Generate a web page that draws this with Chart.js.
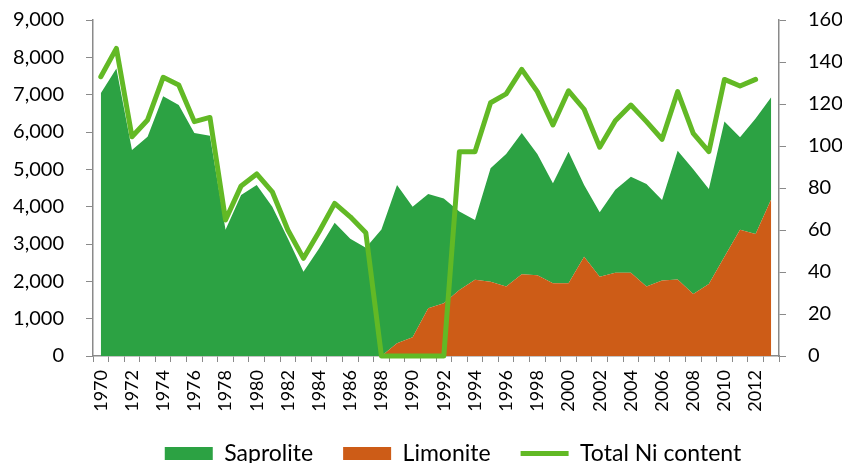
<!DOCTYPE html>
<html>
<head>
<meta charset="utf-8">
<script src="https://cdn.jsdelivr.net/npm/chart.js@4/dist/chart.umd.min.js"></script>
<style>
  html, body { margin: 0; padding: 0; background: #ffffff; }
  #wrap { width: 842px; height: 463px; position: relative; }
</style>
</head>
<body>
<div id="wrap"><canvas id="c" width="842" height="463"></canvas></div>
<script>
const years = [1970,1971,1972,1973,1974,1975,1976,1977,1978,1979,1980,1981,1982,1983,1984,1985,1986,1987,1988,1989,1990,1991,1992,1993,1994,1995,1996,1997,1998,1999,2000,2001,2002,2003,2004,2005,2006,2007,2008,2009,2010,2011,2012,2013];

const saprolite = [7040,7700,5520,5870,6960,6720,5970,5900,3380,4310,4580,4000,3150,2260,2880,3570,3140,2900,3390,4240,3500,3060,2810,2100,1600,3040,3550,3780,3250,2680,3520,1920,1725,2220,2570,2750,2160,3450,3340,2540,3620,2480,3090,2730];

const limonite = [0,0,0,0,0,0,0,0,0,0,0,0,0,0,0,0,0,0,0,340,500,1280,1410,1770,2040,1990,1860,2190,2160,1950,1950,2660,2125,2230,2230,1860,2020,2050,1660,1930,2660,3380,3270,4200];

const totalNi = [133,146.5,104.4,112.4,132.7,129,111.6,113.6,64.8,81,86.7,78.2,60,46.5,59.2,72.7,66.3,58.7,0,0,0,0,0,97.3,97.3,120.6,124.8,136.5,125.9,110,126.3,117.5,99.4,112,119.5,111.6,103.2,125.9,106,97.3,131.7,128.6,131.7,null];

const leftTicks = [0,1000,2000,3000,4000,5000,6000,7000,8000,9000];
const rightTicks = [0,20,40,60,80,100,120,140,160];

const GREEN = '#2ca243';
const ORANGE = '#cd5c17';
const LINE = '#62b925';
const AXIS = '#8a8a8a';

Chart.defaults.font.family = 'Lato, "Liberation Sans", sans-serif';
Chart.defaults.color = '#000000';

const legendFit = {
  id: 'legendFit',
  beforeInit(chart) {
    const orig = chart.legend.fit;
    chart.legend.fit = function () {
      orig.call(this);
      this.height = 51;
    };
  },
  afterLayout(chart) {
    chart.legend.left += 32;
    chart.legend.right += 32;
  }
};

new Chart(document.getElementById('c'), {
  type: 'line',
  data: {
    labels: years,
    datasets: [
      {
        label: 'Saprolite',
        data: saprolite,
        yAxisID: 'y',
        stack: 'ore',
        order: 2,
        backgroundColor: GREEN,
        borderColor: GREEN,
        borderWidth: 0,
        pointRadius: 0,
        pointStyle: 'rect',
        fill: '+1',
        tension: 0
      },
      {
        label: 'Limonite',
        data: limonite,
        yAxisID: 'y',
        stack: 'ore',
        order: 1,
        backgroundColor: ORANGE,
        borderColor: ORANGE,
        borderWidth: 0,
        pointRadius: 0,
        pointStyle: 'rect',
        fill: 'origin',
        tension: 0
      },
      {
        label: 'Total Ni content',
        data: totalNi,
        yAxisID: 'y1',
        order: 0,
        backgroundColor: LINE,
        borderColor: LINE,
        borderWidth: 5,
        borderJoinStyle: 'round',
        borderCapStyle: 'round',
        pointRadius: 0,
        pointStyle: 'line',
        fill: false,
        tension: 0,
        clip: false,
        spanGaps: false
      }
    ]
  },
  options: {
    responsive: false,
    animation: false,
    devicePixelRatio: 1,
    layout: { padding: 0 },
    plugins: {
      tooltip: { enabled: false },
      legend: {
        position: 'bottom',
        labels: {
          usePointStyle: true,
          pointStyleWidth: 48,
          boxHeight: 13,
          padding: 30,
          color: '#000',
          font: { size: 23 },
          sort: (a, b) => a.datasetIndex - b.datasetIndex
        }
      }
    },
    scales: {
      x: {
        type: 'category',
        offset: true,
        grid: {
          display: true,
          offset: true,
          drawOnChartArea: false,
          drawTicks: true,
          tickLength: 6,
          color: AXIS,
          lineWidth: 1
        },
        border: { display: true, color: AXIS, width: 1.5 },
        ticks: {
          autoSkip: false,
          minRotation: 90,
          maxRotation: 90,
          padding: 8,
          color: '#000',
          font: { size: 18 },
          callback: function (v, i) { return i % 2 === 0 ? String(years[i]) : ''; }
        },
        afterFit(scale) { scale.height = 56; }
      },
      y: {
        type: 'linear',
        position: 'left',
        stacked: true,
        min: leftTicks[0],
        max: leftTicks[leftTicks.length - 1],
        afterBuildTicks(scale) { scale.ticks = leftTicks.map(v => ({ value: v })); },
        grid: {
          display: true,
          drawOnChartArea: false,
          drawTicks: true,
          tickLength: 7,
          color: AXIS,
          lineWidth: 1
        },
        border: { display: true, color: AXIS, width: 1.5 },
        ticks: {
          padding: 22,
          color: '#000',
          font: { size: 20 },
          callback: v => Number(v).toLocaleString('en-US')
        },
        afterFit(scale) { scale.width = 93; scale.paddingTop = 20; scale.paddingBottom = 0; }
      },
      y1: {
        type: 'linear',
        position: 'right',
        min: rightTicks[0],
        max: rightTicks[rightTicks.length - 1],
        afterBuildTicks(scale) { scale.ticks = rightTicks.map(v => ({ value: v })); },
        grid: {
          display: true,
          drawOnChartArea: false,
          drawTicks: true,
          tickLength: 7,
          color: AXIS,
          lineWidth: 1
        },
        border: { display: true, color: AXIS, width: 1.5 },
        ticks: {
          padding: 22,
          color: '#000',
          font: { size: 20 }
        },
        afterFit(scale) { scale.width = 63; scale.paddingTop = 20; scale.paddingBottom = 0; }
      }
    }
  },
  plugins: [legendFit]
});
</script>
</body>
</html>
